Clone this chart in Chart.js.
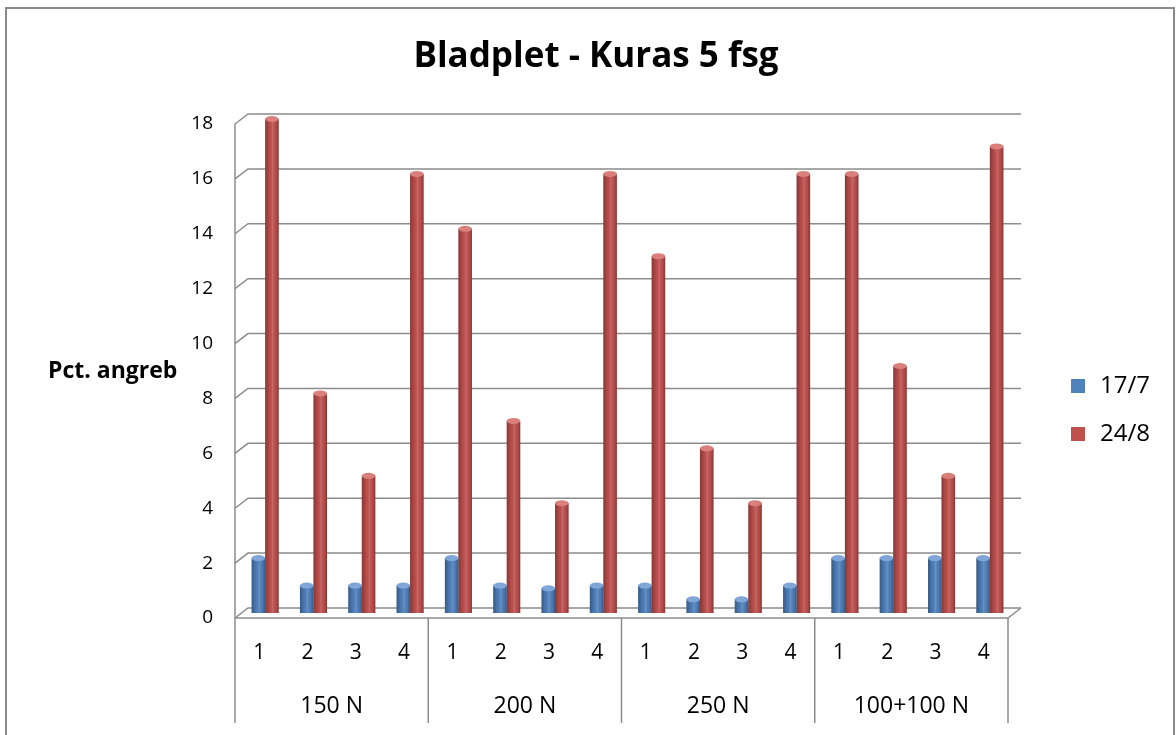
<!DOCTYPE html>
<html>
<head>
<meta charset="utf-8">
<title>Bladplet - Kuras 5 fsg</title>
<script src="https://cdn.jsdelivr.net/npm/chart.js@4.4.1/dist/chart.umd.min.js"></script>
<style>
  html, body { margin: 0; padding: 0; background: #fff; }
  canvas { display: block; }
</style>
</head>
<body>
<canvas id="grafico" width="1176" height="735"></canvas>
<script>
// data
const titel = 'Bladplet - Kuras 5 fsg';
const yTitel = 'Pct. angreb';
const grupper = ['150 N', '200 N', '250 N', '100+100 N'];
const parceller = ['1', '2', '3', '4'];
const serieNavne = ['17/7', '24/8'];
const vaerdier177 = [2, 1, 1, 1, 2, 1, 0.9, 1, 1, 0.5, 0.5, 1, 2, 2, 2, 2];
const vaerdier248 = [18, 8, 5, 16, 14, 7, 4, 16, 13, 6, 4, 16, 16, 9, 5, 17];
const yTicks = [0, 2, 4, 6, 8, 10, 12, 14, 16, 18];

const farver = ['#4F81BD', '#C0504D'];
const lyse = ['#7fa6d6', '#d9807d'];
const gitter = '#8c8c8c';
const skrift = "'Open Sans', 'Liberation Sans', sans-serif";

const kategorier = grupper.flatMap(() => parceller);

// 3D-forskydning for vægge og gulv
const frontDx = -6, bagDx = 7, frontDy = 5, bagDy = -5;

const rammer = {
  id: 'rammer',
  beforeDraw(chart) {
    const ctx = chart.ctx;
    ctx.save();
    ctx.fillStyle = '#fff';
    ctx.fillRect(0, 0, chart.width, chart.height);
    ctx.strokeStyle = '#8a8a8a';
    ctx.lineWidth = 2;
    ctx.strokeRect(6, 8, chart.width - 8, chart.height + 40);
    ctx.restore();
  },
  beforeDatasetsDraw(chart) {
    const { ctx, chartArea: a, scales: { x, y } } = chart;
    ctx.save();
    ctx.strokeStyle = gitter;
    ctx.lineWidth = 1.5;
    yTicks.forEach(v => {
      const py = y.getPixelForValue(v);
      ctx.beginPath();
      ctx.moveTo(a.left + frontDx, py + frontDy);
      ctx.lineTo(a.left + bagDx, py + bagDy);
      ctx.lineTo(a.right + bagDx, py + bagDy);
      ctx.stroke();
    });
    const p0 = y.getPixelForValue(0);
    const pTop = y.getPixelForValue(yTicks[yTicks.length - 1]);
    // gulvets forkant
    ctx.beginPath();
    ctx.moveTo(a.left + frontDx, p0 + frontDy);
    ctx.lineTo(a.right + frontDx, p0 + frontDy);
    ctx.lineTo(a.right + bagDx, p0 + bagDy);
    ctx.stroke();
    // venstre væg
    ctx.beginPath();
    ctx.moveTo(a.left + frontDx, pTop + frontDy);
    ctx.lineTo(a.left + frontDx, 723);
    ctx.stroke();
    // skillelinjer mellem grupper
    const bredde = x.width / kategorier.length;
    for (let k = 1; k <= grupper.length; k++) {
      const px = x.getPixelForValue(k * parceller.length - 1) + bredde / 2 + frontDx;
      ctx.beginPath();
      ctx.moveTo(px, p0 + frontDy);
      ctx.lineTo(px, 723);
      ctx.stroke();
    }
    ctx.restore();
  },
  afterDatasetsDraw(chart) {
    const ctx = chart.ctx;
    ctx.save();
    chart.data.datasets.forEach((ds, i) => {
      chart.getDatasetMeta(i).data.forEach(bar => {
        const w = bar.width;
        const l = bar.x - w / 2;
        const g = ctx.createLinearGradient(l, 0, l + w, 0);
        g.addColorStop(0, 'rgba(0,0,0,0.30)');
        g.addColorStop(0.35, 'rgba(0,0,0,0.04)');
        g.addColorStop(0.55, 'rgba(255,255,255,0.14)');
        g.addColorStop(0.8, 'rgba(0,0,0,0.05)');
        g.addColorStop(1, 'rgba(0,0,0,0.32)');
        ctx.fillStyle = g;
        ctx.fillRect(l, bar.y, w, bar.base - bar.y);
        ctx.beginPath();
        ctx.ellipse(bar.x, bar.y, w / 2, 3, 0, 0, Math.PI * 2);
        ctx.fillStyle = lyse[i];
        ctx.fill();
      });
    });
    ctx.restore();
  },
  afterDraw(chart) {
    const { ctx, scales: { x } } = chart;
    ctx.save();
    ctx.fillStyle = '#000';
    ctx.textBaseline = 'middle';
    // gruppenavne
    ctx.font = '23px ' + skrift;
    ctx.textAlign = 'center';
    grupper.forEach((g, k) => {
      const a = x.getPixelForValue(k * parceller.length);
      const b = x.getPixelForValue((k + 1) * parceller.length - 1);
      ctx.fillText(g, (a + b) / 2 + frontDx, 706);
    });
    // y-aksens titel
    ctx.font = 'bold 23px ' + skrift;
    ctx.textAlign = 'left';
    ctx.fillText(yTitel, 48, 371);
    // signatur
    ctx.font = '24px ' + skrift;
    chart.data.datasets.forEach((ds, i) => {
      const cy = 386 + i * 48;
      ctx.fillStyle = ds.backgroundColor;
      ctx.fillRect(1071, cy - 7, 14, 14);
      ctx.fillStyle = '#000';
      ctx.fillText(ds.label, 1100, cy);
    });
    ctx.restore();
  }
};

new Chart(document.getElementById('grafico'), {
  type: 'bar',
  data: {
    labels: kategorier,
    datasets: [
      { label: serieNavne[0], data: vaerdier177, backgroundColor: farver[0] },
      { label: serieNavne[1], data: vaerdier248, backgroundColor: farver[1] }
    ]
  },
  options: {
    responsive: false,
    animation: false,
    devicePixelRatio: 1,
    layout: { padding: { left: 178, right: 162, top: 0, bottom: 0 } },
    datasets: {
      bar: { barPercentage: 1, categoryPercentage: 0.56 }
    },
    plugins: {
      legend: { display: false },
      tooltip: { enabled: false },
      title: {
        display: true,
        text: titel,
        color: '#000',
        font: { family: skrift, size: 35, weight: 'bold' },
        padding: { top: 36, bottom: 41 }
      }
    },
    scales: {
      x: {
        grid: { display: false, drawTicks: false },
        border: { display: false },
        ticks: {
          color: '#000',
          font: { family: skrift, size: 21 },
          padding: 27,
          labelOffset: frontDx,
          maxRotation: 0,
          autoSkip: false
        },
        afterFit(axis) { axis.height = 122; }
      },
      y: {
        min: 0,
        max: 18,
        afterBuildTicks(axis) { axis.ticks = yTicks.map(v => ({ value: v })); },
        grid: { display: false, drawTicks: false },
        border: { display: false },
        ticks: {
          color: '#000',
          font: { family: skrift, size: 19 },
          padding: 28,
          labelOffset: 5
        },
        afterFit(axis) { axis.width = 63; }
      }
    }
  },
  plugins: [rammer]
});
</script>
</body>
</html>
